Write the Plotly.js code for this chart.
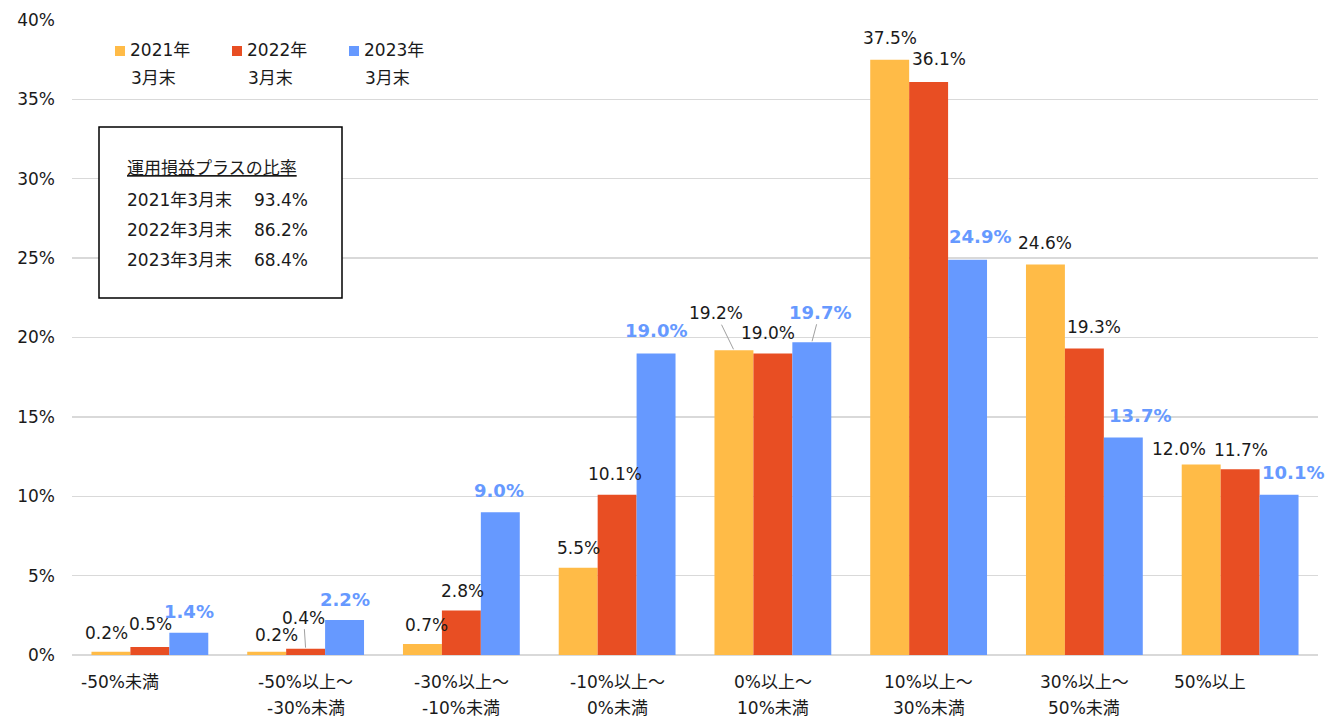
<!DOCTYPE html>
<html>
<head>
<meta charset="utf-8">
<script src="https://cdn.plot.ly/plotly-3.0.1.min.js"></script>
<style>
  html, body { margin: 0; padding: 0; background: #fff; }
  #chart { width: 1328px; height: 718px; }
</style>
</head>
<body>
<div id="chart"></div>
<script>
// ---- data ----
const tickLabels = [
  ['-50%未満'],
  ['-50%以上～', '-30%未満'],
  ['-30%以上～', '-10%未満'],
  ['-10%以上～', '0%未満'],
  ['0%以上～', '10%未満'],
  ['10%以上～', '30%未満'],
  ['30%以上～', '50%未満'],
  ['50%以上']
];
const categories = tickLabels.map(l => l.join(''));
const seriesNames = ['2021年3月末', '2022年3月末', '2023年3月末'];
const values2021 = [0.2, 0.2, 0.7, 5.5, 19.2, 37.5, 24.6, 12.0];
const values2022 = [0.5, 0.4, 2.8, 10.1, 19.0, 36.1, 19.3, 11.7];
const values2023 = [1.4, 2.2, 9.0, 19.0, 19.7, 24.9, 13.7, 10.1];
const summaryTitle = '運用損益プラスの比率';
const plusRatio = [93.4, 86.2, 68.4];

// ---- styling & geometry ----
const FONT = 'DejaVu Sans, Noto Sans CJK JP, sans-serif';
const TEXT = '#1a1a1a';
const colors = ['#FFBB47', '#E84E23', '#6699FF'];
const W = 1328, H = 718;
const M = { l: 72, r: 10, t: 20, b: 63 };
const PW = W - M.l - M.r, PH = H - M.t - M.b;
const px = x => (x - M.l) / PW;          // pixel -> paper x
const py = y => (H - M.b - y) / PH;      // pixel -> paper y

const series = [values2021, values2022, values2023];
const BARGAP = 0.25;
const barW = (1 - BARGAP) / series.length;

const traces = series.map((vals, s) => ({
  type: 'bar',
  x: categories,
  y: vals,
  name: seriesNames[s],
  marker: { color: colors[s], line: { width: 0 } },
  hoverinfo: 'none',
  showlegend: false
}));

// value label placement: [dx px, px above bar top, leader line]
const nudge = {
  '0,0': [-4, 19],  '1,0': [1, 23],   '2,0': [0, 21],
  '0,1': [10, 17],  '1,1': [-2, 31, true], '2,1': [0, 21],
  '0,2': [4, 19],   '1,2': [1, 20],   '2,2': [-1, 22],
  '0,3': [0, 20],   '1,3': [-2, 21],  '2,3': [0, 23],
  '0,4': [-18, 37, true], '1,4': [-5, 20], '2,4': [8, 30, true],
  '0,5': [0, 22],   '1,5': [10, 23],  '2,5': [12, 23],
  '0,6': [0, 21],   '1,6': [10, 22],  '2,6': [17, 22],
  '0,7': [-22, 16], '1,7': [1, 19],   '2,7': [14, 22]
};

const annotations = [];
const shapes = [];

series.forEach((vals, s) => {
  vals.forEach((v, i) => {
    const [dx, dy, leader] = nudge[s + ',' + i] || [0, 21];
    const bold = s === 2;
    const a = {
      x: i + (s - 1) * barW, xref: 'x',
      y: v, yref: 'y',
      text: bold ? '<b>' + v.toFixed(1) + '%</b>' : v.toFixed(1) + '%',
      font: { family: FONT, size: bold ? 18 : 17, color: bold ? colors[2] : TEXT },
      xanchor: 'center', yanchor: 'middle'
    };
    if (leader) {
      Object.assign(a, {
        showarrow: true, ax: dx, ay: -dy, arrowhead: 0,
        arrowwidth: 1, arrowcolor: '#a0a0a0', standoff: 1
      });
    } else {
      Object.assign(a, { showarrow: false, xshift: dx, yshift: dy });
    }
    annotations.push(a);
  });
});

// category labels below the axis
tickLabels.forEach((lines, i) => {
  lines.forEach((t, k) => {
    annotations.push({
      x: i, xref: 'x', y: py(682 + k * 26), yref: 'paper',
      text: t, showarrow: false, xanchor: 'center', yanchor: 'middle',
      xshift: lines.length === 1 ? -30 : 0,
      font: { family: FONT, size: 17, color: TEXT }
    });
  });
});

// legend: coloured square + two-line series name
seriesNames.forEach((name, s) => {
  const x0 = 115 + s * 117;
  shapes.push({
    type: 'rect', xref: 'paper', yref: 'paper',
    x0: px(x0), x1: px(x0 + 10), y0: py(56), y1: py(46),
    fillcolor: colors[s], line: { width: 0 }
  });
  const parts = name.split('年');
  [parts[0] + '年', parts[1]].forEach((t, k) => {
    annotations.push({
      x: px(x0 + 13 + k), xref: 'paper', y: py(50 + k * 28), yref: 'paper',
      text: t, showarrow: false, xanchor: 'left', yanchor: 'middle',
      font: { family: FONT, size: 17, color: TEXT }
    });
  });
});

// summary box
shapes.push({
  type: 'rect', xref: 'paper', yref: 'paper',
  x0: px(99), x1: px(342), y0: py(298), y1: py(127),
  fillcolor: '#ffffff', line: { color: '#000000', width: 1.5 }
});
annotations.push({
  x: px(125), xref: 'paper', y: py(168), yref: 'paper',
  text: summaryTitle, showarrow: false, xanchor: 'left', yanchor: 'middle',
  font: { family: FONT, size: 17, color: TEXT, lineposition: 'under' }
});
seriesNames.forEach((name, s) => {
  const yy = py(200 + s * 30);
  annotations.push({
    x: px(125), xref: 'paper', y: yy, yref: 'paper',
    text: name, showarrow: false, xanchor: 'left', yanchor: 'middle',
    font: { family: FONT, size: 17, color: TEXT }
  });
  annotations.push({
    x: px(252), xref: 'paper', y: yy, yref: 'paper',
    text: plusRatio[s].toFixed(1) + '%', showarrow: false, xanchor: 'left', yanchor: 'middle',
    font: { family: FONT, size: 17, color: TEXT }
  });
});

const layout = {
  width: W, height: H,
  margin: M,
  paper_bgcolor: '#ffffff', plot_bgcolor: '#ffffff',
  barmode: 'group', bargap: BARGAP, bargroupgap: 0,
  showlegend: false,
  font: { family: FONT, size: 17, color: TEXT },
  xaxis: {
    type: 'category', range: [-0.5, categories.length - 0.5],
    showticklabels: false, ticks: '', showgrid: false, zeroline: false, showline: false,
    fixedrange: true
  },
  yaxis: {
    range: [0, 40], dtick: 5, ticksuffix: '%',
    showgrid: true, gridcolor: '#d9d9d9', gridwidth: 1.3,
    zeroline: true, zerolinecolor: '#d9d9d9', zerolinewidth: 1.3,
    showline: false, ticks: '', ticklabelstandoff: 16,
    tickfont: { family: FONT, size: 17, color: TEXT },
    fixedrange: true
  },
  shapes: shapes,
  annotations: annotations
};

Plotly.newPlot('chart', traces, layout, { displayModeBar: false, staticPlot: true });
</script>
</body>
</html>
